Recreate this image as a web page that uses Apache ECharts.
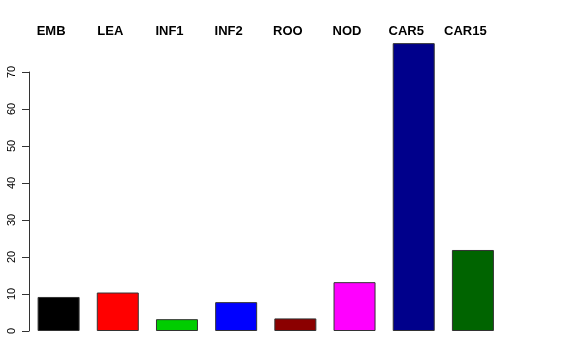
<!DOCTYPE html>
<html><head><meta charset="utf-8">
<script src="https://cdn.jsdelivr.net/npm/echarts@6/dist/echarts.min.js"></script>
<style>html,body{margin:0;padding:0;background:#fff}#c{width:576px;height:360px}</style>
</head><body><div id="c"></div>
<script>
const categories = ["EMB","LEA","INF1","INF2","ROO","NOD","CAR5","CAR15"];
const values = [9.2, 10.4, 3.2, 7.8, 3.4, 13.2, 77.8, 21.9];
const colors = ["#000000","#FF0000","#00CD00","#0000FF","#8B0000","#FF00FF","#00008B","#006400"];
const yTicks = [0,10,20,30,40,50,60,70];

const chart = echarts.init(document.getElementById('c'));
chart.setOption({
  animation:false,
  grid:{left:29, right:73.5, top:72, bottom:29, containLabel:false},
  xAxis:{type:'category', data:categories, position:'top',
    axisLine:{show:false}, axisTick:{show:false},
    axisLabel:{margin:34, padding:[0,15,0,0], fontFamily:'Liberation Sans, Arial, sans-serif', fontWeight:'bold', fontSize:13, color:'#000'}},
  yAxis:{type:'value', min:yTicks[0], max:yTicks[yTicks.length-1], interval:10,
    splitLine:{show:false},
    axisLine:{show:true, lineStyle:{color:'#333', width:1}},
    axisTick:{show:true, length:7, lineStyle:{color:'#333'}},
    axisLabel:{rotate:90, margin:12, fontFamily:'Liberation Sans, Arial, sans-serif', fontSize:11, color:'#000'}},
  series:[{type:'bar', clip:false, barWidth:42,
    data:values.map((v,i)=>({value:v, itemStyle:{color:colors[i]}})),
    itemStyle:{borderColor:'#333', borderWidth:1}}]
});
</script></body></html>
